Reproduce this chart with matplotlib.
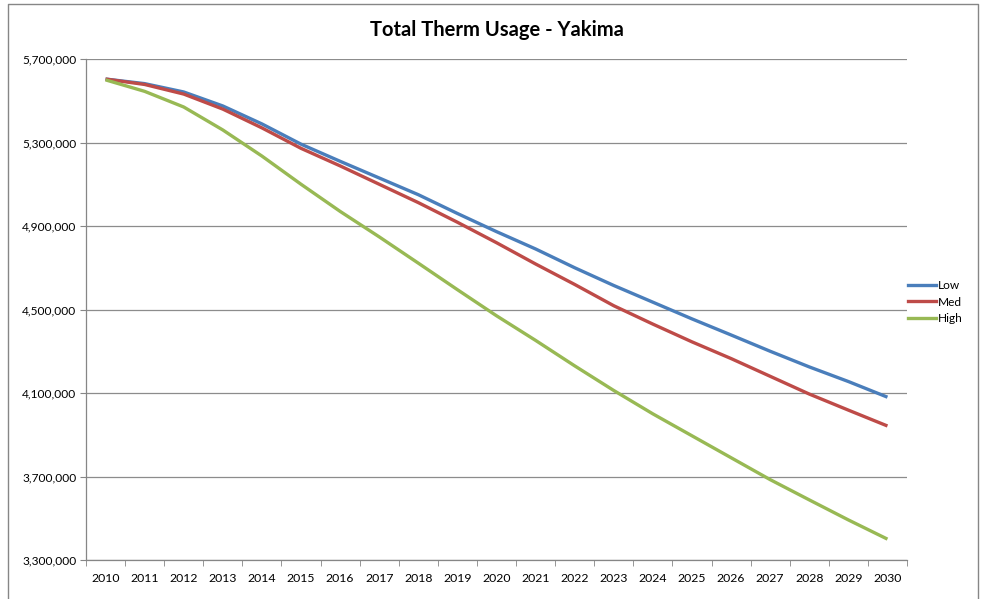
import matplotlib.pyplot as plt
from matplotlib.lines import Line2D
from matplotlib.ticker import FuncFormatter

years = [str(y) for y in range(2010, 2031)]

low = [5604000, 5582000, 5542000, 5475000, 5389000, 5292000, 5210000, 5130000,
       5050000, 4960000, 4873000, 4790000, 4700000, 4615000, 4535000, 4455000,
       4378000, 4300000, 4225000, 4155000, 4080000]
med = [5604000, 5578000, 5532000, 5460000, 5370000, 5272000, 5188000, 5100000,
       5012000, 4918000, 4820000, 4718000, 4620000, 4518000, 4430000, 4345000,
       4265000, 4180000, 4095000, 4018000, 3942000]
high = [5600000, 5545000, 5470000, 5360000, 5235000, 5100000, 4970000, 4848000,
        4722000, 4595000, 4470000, 4352000, 4230000, 4112000, 4000000, 3895000,
        3790000, 3685000, 3588000, 3492000, 3400000]
yticks = [3300000, 3700000, 4100000, 4500000, 4900000, 5300000, 5700000]

series = [("Low", low, "#4a7ebb"), ("Med", med, "#be4b48"), ("High", high, "#98b954")]

plt.rcParams['font.family'] = ['Lato', 'DejaVu Sans']

fig = plt.figure(figsize=(9.82, 5.99), dpi=100)
ax = fig.add_axes([86 / 982, 1 - 560 / 599, 821 / 982, 501 / 599])

x = list(range(len(years)))
for name, vals, col in series:
    ax.plot(x, vals, color=col, lw=2.4, label=name, solid_capstyle='butt')

ax.set_xlim(-0.5, len(years) - 0.5)
ax.set_ylim(yticks[0], yticks[-1])
ax.set_yticks(yticks)
ax.yaxis.set_major_formatter(FuncFormatter(lambda v, p: f"{int(v):,}"))
ax.set_xticks(x)
ax.set_xticklabels(years)
ax.set_xticks([i - 0.5 for i in range(len(years) + 1)], minor=True)
ax.tick_params(axis='x', which='major', length=0, pad=9, labelsize=8.8, colors='black')
ax.tick_params(axis='x', which='minor', length=4, color='#868686', direction='out')
ax.tick_params(axis='y', length=4, color='#868686', labelsize=8.6, pad=3)

ax.grid(axis='y', color='#8c8c8c', lw=0.9)
ax.set_axisbelow(True)
for s in ['top', 'right']:
    ax.spines[s].set_visible(False)
for s in ['left', 'bottom']:
    ax.spines[s].set_color('#868686')
    ax.spines[s].set_linewidth(0.9)

fig.text(497 / 982, 1 - 30 / 599, "Total Therm Usage - Yakima", ha='center', va='center',
         fontsize=14.5, fontweight='bold')

handles = [Line2D([], [], color=c, lw=2.4) for _, _, c in series]
fig.legend(handles, [n for n, _, _ in series], loc='center left',
           bbox_to_anchor=(897 / 982, 1 - 302 / 599), frameon=False, fontsize=8.6,
           handlelength=2.4, handletextpad=0.1, labelspacing=0.45)

# outer chart border
fig.add_artist(Line2D([8 / 982, 8 / 982, 978 / 982, 978 / 982],
                      [0, 1 - 4 / 599, 1 - 4 / 599, 0],
                      transform=fig.transFigure, color='#868686', lw=1))

fig.savefig("out.png", dpi=100)
